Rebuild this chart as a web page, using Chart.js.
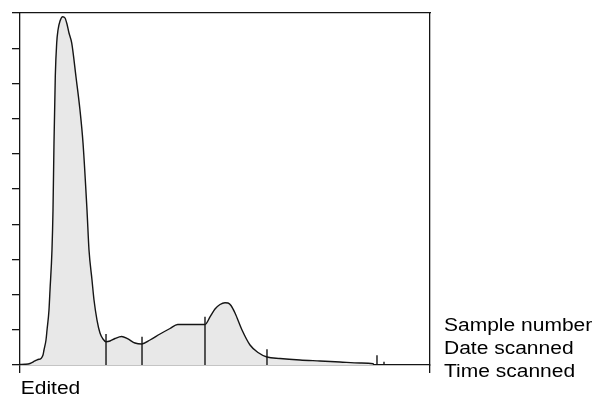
<!DOCTYPE html>
<html>
<head>
<meta charset="utf-8">
<script src="https://cdn.jsdelivr.net/npm/chart.js@4.4.0/dist/chart.umd.min.js"></script>
<style>
  html, body { margin: 0; padding: 0; background: #ffffff; }
  #wrap { width: 597px; height: 396px; position: relative; }
</style>
</head>
<body>
<div id="wrap"><canvas id="c" width="597" height="396"></canvas></div>
<script>
// Scan position (0-100) and optical density of the trace
const positions = [0, 1.22, 2.44, 3.66, 4.39, 5.12, 5.61, 5.85, 6.34, 6.59, 7.07, 7.32, 7.80, 8.05, 8.29, 8.61, 8.95, 9.27, 9.76, 10.41, 10.98, 11.46, 11.95, 12.61, 13.66, 14.63, 15.37, 16.34, 16.83, 17.56, 18.05, 18.78, 19.51, 20.24, 20.98, 21.95, 23.17, 24.80, 26.34, 28.05, 29.68, 31.71, 34.15, 36.59, 38.46, 45.12, 46.34, 47.56, 48.78, 50.0, 50.73, 51.46, 52.44, 54.15, 56.10, 58.05, 60.24, 63.41, 68.29, 73.17, 78.05, 82.93, 86.10, 86.34];
const density = [0.014, 0.02, 0.043, 0.114, 0.156, 0.185, 0.284, 0.426, 0.71, 0.994, 1.563, 2.131, 3.267, 4.403, 6.307, 8.21, 9.148, 9.517, 9.773, 9.895, 9.858, 9.688, 9.432, 9.148, 8.182, 7.244, 6.307, 4.403, 3.267, 2.415, 1.847, 1.278, 0.909, 0.739, 0.662, 0.682, 0.753, 0.81, 0.739, 0.625, 0.597, 0.71, 0.881, 1.037, 1.15, 1.15, 1.364, 1.591, 1.719, 1.77, 1.761, 1.69, 1.477, 0.994, 0.568, 0.355, 0.227, 0.185, 0.142, 0.114, 0.085, 0.057, 0.037, 0];
// Fraction divider marks
const dividerPositions = [20.98, 29.76, 45.12, 60.24, 87.07, 88.78];
const dividerHeights = [0.88, 0.80, 1.37, 0.45, 0.28, 0.09];
// Axis ticks
const yTicks = [0, 1, 2, 3, 4, 5, 6, 7, 8, 9, 10];
const xTicks = [0, 100];
// Text labels
const bottomLabel = 'Edited';
const sideLabels = ['Sample number', 'Date scanned', 'Time scanned'];

const trace = positions.map((x, i) => ({ x: x, y: density[i] }));
const dividers = [];
dividerPositions.forEach((x, i) => {
  dividers.push({ x: x, y: 0 });
  dividers.push({ x: x, y: dividerHeights[i] });
  dividers.push({ x: x, y: null });
});

const ink = '#151515';

const labelPlugin = {
  id: 'labels',
  afterDraw(chart) {
    const ctx = chart.ctx;
    const area = chart.chartArea;
    ctx.save();
    ctx.fillStyle = '#000';
    ctx.textBaseline = 'alphabetic';
    ctx.font = '17.5px "Liberation Sans", Arial, sans-serif';
    const sx = 1.2;
    ctx.save();
    ctx.translate(area.left + 0.7, area.bottom + 28.5);
    ctx.scale(sx, 1);
    ctx.fillText(bottomLabel, 0, 0);
    ctx.restore();
    sideLabels.forEach((t, i) => {
      ctx.save();
      ctx.translate(area.right + 14, area.bottom - 34 + i * 22.9);
      ctx.scale(sx, 1);
      ctx.fillText(t, 0, 0);
      ctx.restore();
    });
    ctx.restore();
  }
};

new Chart(document.getElementById('c'), {
  type: 'line',
  data: {
    datasets: [
      {
        data: trace,
        borderColor: ink,
        borderWidth: 1.4,
        backgroundColor: '#e8e8e8',
        fill: 'origin',
        pointRadius: 0,
        cubicInterpolationMode: 'monotone',
        order: 2
      },
      {
        data: dividers,
        borderColor: ink,
        borderWidth: 1.4,
        fill: false,
        pointRadius: 0,
        tension: 0,
        spanGaps: false,
        order: 1
      }
    ]
  },
  options: {
    responsive: false,
    animation: false,
    events: [],
    layout: { padding: { left: 12, right: 167, top: 13, bottom: 23 } },
    plugins: { legend: { display: false }, tooltip: { enabled: false }, title: { display: false } },
    scales: {
      x: {
        type: 'linear',
        position: 'bottom',
        min: 0,
        max: 100,
        afterBuildTicks(scale) { scale.ticks = xTicks.map(v => ({ value: v })); },
        ticks: { display: false },
        grid: { drawOnChartArea: false, drawTicks: true, tickLength: 8, color: ink, lineWidth: 1.3 },
        border: { display: true, color: ink, width: 1.3 }
      },
      x2: {
        type: 'linear',
        position: 'top',
        min: 0,
        max: 100,
        ticks: { display: false },
        grid: { display: false, drawTicks: false },
        border: { display: true, color: ink, width: 1.3 }
      },
      y: {
        type: 'linear',
        position: 'left',
        min: 0,
        max: 10,
        afterBuildTicks(scale) { scale.ticks = yTicks.map(v => ({ value: v })); },
        ticks: { display: false },
        grid: { drawOnChartArea: false, drawTicks: true, tickLength: 8, color: ink, lineWidth: 1.3 },
        border: { display: true, color: ink, width: 1.3 }
      },
      y2: {
        type: 'linear',
        position: 'right',
        min: 0,
        max: 10,
        ticks: { display: false },
        grid: { display: false, drawTicks: false },
        border: { display: true, color: ink, width: 1.3 }
      }
    }
  },
  plugins: [labelPlugin]
});
</script>
</body>
</html>
